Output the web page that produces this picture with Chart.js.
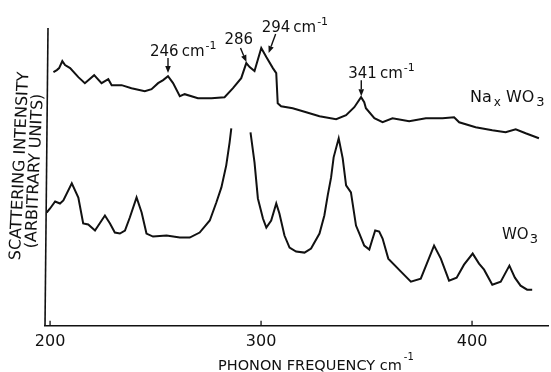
<!DOCTYPE html>
<html>
<head>
<meta charset="utf-8">
<title>Raman spectra of WO3 and NaxWO3</title>
<script src="https://cdn.jsdelivr.net/npm/chart.js@4.4.1/dist/chart.umd.min.js"></script>
<style>
  body { margin: 0; background: #fff; }
  canvas { display: block; }
</style>
</head>
<body>
<canvas id="spectrum" width="551" height="372"></canvas>
<script>
// Upper trace: NaxWO3 (phonon frequency cm-1, intensity in arbitrary units)
const naFreq = [201.6, 203.2, 204.3, 205.8, 207.1, 209.5, 213.4, 216.5, 220.9, 224.4, 227.6, 229.2, 233.9, 238.6,
  244.9, 248.1, 251.2, 253.6, 255.9, 258.3, 261.5, 263.8, 270.1, 276.5, 282.7, 286.7, 290.6, 293.0, 294.6,
  296.9, 300.1, 302.5, 305.6, 307.2, 307.9, 309.5, 315.0, 321.4, 327.7, 335.6, 340.3, 344.2, 347.4, 348.9,
  349.7, 353.7, 357.6, 362.3, 370.2, 378.1, 386.0, 391.5, 393.9, 401.7, 409.6, 415.9, 420.7, 425.4, 431.7];
const naInt = [253, 255, 257, 264, 260, 257, 248, 242, 250, 242, 246, 240, 240, 237,
  234, 236, 242, 245, 249, 242, 229, 231, 227, 227, 228, 237, 247, 262, 258,
  254, 277, 268, 257, 252, 222, 219, 217, 213, 209, 206, 210, 218, 228, 223,
  217, 207, 203, 207, 204, 207, 207, 208, 203, 198, 195, 193, 196, 192, 187];

// Lower trace: WO3. null = pen ran off the top of the paper
const wo3Freq = [198.4, 200.0, 202.4, 204.7, 206.3, 210.3, 213.4, 215.7, 218.1, 221.3, 226.0, 228.4, 230.7, 233.1,
  235.5, 237.8, 241.0, 243.4, 245.7, 248.8, 255.2, 261.5, 266.2, 270.9, 275.7, 278.8, 281.2, 283.5, 285.1,
  285.9, 290.5, 295.0, 296.9, 298.5, 300.9, 302.5, 304.8, 307.2, 308.7, 311.1, 313.5, 316.6, 320.6, 323.7,
  327.7, 330.0, 331.6, 333.2, 334.4, 336.8, 338.7, 340.3, 342.6, 345.0, 346.6, 348.9, 351.3, 352.6, 354.1,
  356.0, 357.6, 360.3, 366.3, 371.0, 375.7, 382.0, 385.2, 389.1, 392.7, 396.2, 400.3, 403.3, 405.7, 409.6,
  413.6, 417.7, 420.3, 423.0, 426.1, 428.5];
const wo3Int = [113, 117, 124, 122, 125, 142, 128, 102, 101, 95, 110, 102, 93, 92,
  95, 108, 128, 113, 92, 89, 90, 88, 88, 93, 105, 123, 138, 160, 183,
  197, null, 193, 163, 127, 107, 98, 105, 122, 112, 90, 78, 74, 73, 77,
  92, 110, 130, 148, 168, 187, 167, 140, 133, 100, 92, 80, 76, 85, 95,
  94, 87, 67, 54, 44, 47, 80, 67, 45, 48, 61, 72, 62, 56, 41,
  44, 60, 48, 40, 36, 36];

const freqTicks = [200, 300, 400];

// Peak markers on the upper trace: label, arrow tip (data), tail and text offsets (px)
const peakNotes = [
  { text: '246', unit: true, f: 255.9, i: 251, tail: [0, -16], at: [-18, -18] },
  { text: '286', unit: false, f: 293.1, i: 262, tail: [-6, -15], at: [-22, -19] },
  { text: '294', unit: true, f: 303.6, i: 271, tail: [7, -20], at: [-7, -22] },
  { text: '341', unit: true, f: 347.5, i: 228, tail: [0, -17], at: [-13, -19] }
];

const ink = '#111';
const font = 'DejaVu Sans';

function toPoints(xs, ys) {
  return xs.map((v, k) => ({ x: v, y: ys[k] }));
}

// draws a run of text pieces; rise > 0 = superscript, < 0 = subscript
function drawRun(ctx, parts, x, y) {
  parts.forEach(p => {
    ctx.font = p.size + 'px "' + font + '"';
    x += p.gap || 0;
    ctx.fillText(p.t, x, y - (p.rise || 0));
    x += ctx.measureText(p.t).width;
  });
}

function arrow(ctx, x0, y0, x1, y1) {
  const ang = Math.atan2(y1 - y0, x1 - x0);
  const len = 7, half = 2.8;
  ctx.lineWidth = 1.4;
  ctx.beginPath();
  ctx.moveTo(x0, y0);
  ctx.lineTo(x1 - Math.cos(ang) * len, y1 - Math.sin(ang) * len);
  ctx.stroke();
  ctx.beginPath();
  ctx.moveTo(x1, y1);
  ctx.lineTo(x1 - Math.cos(ang) * len - Math.sin(ang) * half, y1 - Math.sin(ang) * len + Math.cos(ang) * half);
  ctx.lineTo(x1 - Math.cos(ang) * len + Math.sin(ang) * half, y1 - Math.sin(ang) * len - Math.cos(ang) * half);
  ctx.closePath();
  ctx.fill();
}

const overlay = {
  id: 'overlay',
  afterDraw(chart) {
    const { ctx, chartArea: a, scales: { x, y } } = chart;
    ctx.save();
    ctx.strokeStyle = ink;
    ctx.fillStyle = ink;
    ctx.textBaseline = 'alphabetic';
    ctx.textAlign = 'left';

    // intensity axis (no ticks), leaning a little like the scan
    ctx.lineWidth = 1.6;
    ctx.beginPath();
    ctx.moveTo(a.left, a.bottom);
    ctx.lineTo(a.left + 3, a.top);
    ctx.stroke();

    // short inward tick marks
    ctx.lineWidth = 1.3;
    freqTicks.forEach(v => {
      const px = x.getPixelForValue(v);
      ctx.beginPath();
      ctx.moveTo(px, a.bottom);
      ctx.lineTo(px, a.bottom - 5);
      ctx.stroke();
    });

    // peak labels with arrows
    peakNotes.forEach(n => {
      const tx = x.getPixelForValue(n.f);
      const ty = y.getPixelForValue(n.i);
      arrow(ctx, tx + n.tail[0], ty + n.tail[1], tx, ty - 1);
      const parts = [{ t: n.text, size: 15 }];
      if (n.unit) {
        parts.push({ t: 'cm', size: 15, gap: 3 });
        parts.push({ t: '-1', size: 11, rise: 7, gap: 1 });
      }
      drawRun(ctx, parts, tx + n.at[0], ty + n.at[1]);
    });

    // trace names
    drawRun(ctx, [
      { t: 'Na', size: 16 },
      { t: 'x', size: 12, rise: -4, gap: 2 },
      { t: 'WO', size: 16, gap: 5 },
      { t: '3', size: 13, rise: -4, gap: 2 }
    ], 470, 102);
    drawRun(ctx, [
      { t: 'WO', size: 15 },
      { t: '3', size: 13, rise: -4, gap: 1 }
    ], 502, 239);

    // frequency axis title
    drawRun(ctx, [
      { t: 'PHONON FREQUENCY cm', size: 14.5 },
      { t: '-1', size: 10, rise: 10, gap: 2 }
    ], 218, 370);

    // intensity axis title, two rotated lines
    ctx.textAlign = 'center';
    ctx.textBaseline = 'middle';
    ctx.font = '16px "' + font + '"';
    [['SCATTERING INTENSITY', 20, 166], ['(ARBITRARY UNITS)', 35, 171]].forEach(([t, cx, cy]) => {
      ctx.save();
      ctx.translate(cx, cy);
      ctx.rotate(-Math.PI / 2 + 0.045);
      ctx.fillText(t, 0, 0);
      ctx.restore();
    });
    ctx.restore();
  }
};

new Chart(document.getElementById('spectrum'), {
  type: 'line',
  data: {
    datasets: [
      {
        label: 'NaxWO3',
        data: toPoints(naFreq, naInt),
        borderColor: ink,
        borderWidth: 2,
        pointRadius: 0,
        tension: 0,
        fill: false
      },
      {
        label: 'WO3',
        data: toPoints(wo3Freq, wo3Int),
        borderColor: ink,
        borderWidth: 2,
        pointRadius: 0,
        tension: 0,
        spanGaps: false,
        fill: false
      }
    ]
  },
  options: {
    responsive: false,
    animation: false,
    devicePixelRatio: 1,
    layout: { padding: { left: 45, right: 3, top: 28, bottom: 15 } },
    plugins: {
      legend: { display: false },
      tooltip: { enabled: false }
    },
    scales: {
      x: {
        type: 'linear',
        min: 197.6,
        max: 436,
        afterBuildTicks: axis => { axis.ticks = freqTicks.map(v => ({ value: v })); },
        grid: { display: false, drawTicks: false },
        border: { display: true, color: ink, width: 1.6 },
        ticks: {
          color: ink,
          padding: 6,
          font: { family: font, size: 16 }
        }
      },
      y: {
        display: false,
        min: 0,
        max: 297
      }
    }
  },
  plugins: [overlay]
});
</script>
</body>
</html>
